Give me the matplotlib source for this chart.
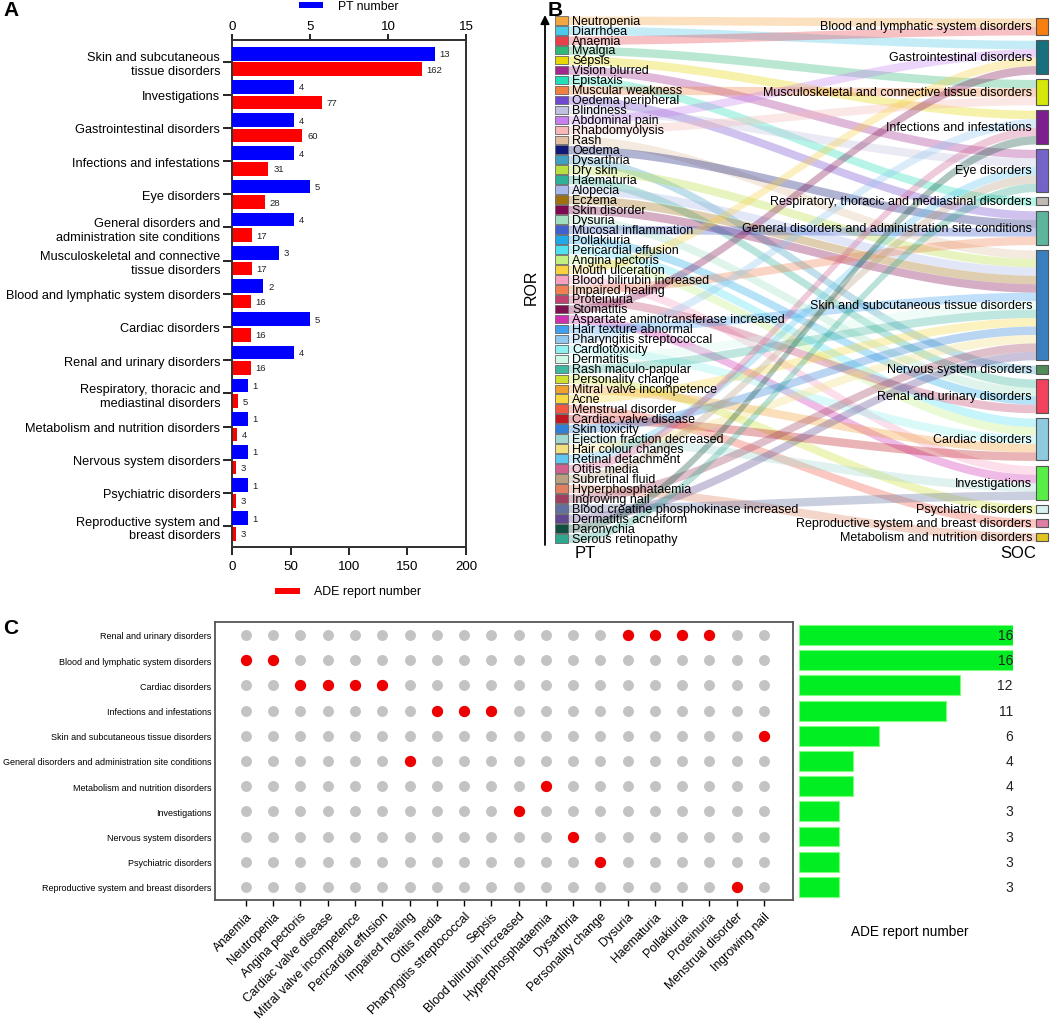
import numpy as np
import matplotlib
matplotlib.use('Agg')
import matplotlib.pyplot as plt
from matplotlib.patches import Rectangle

plt.rcParams['font.family'] = ['Liberation Sans', 'DejaVu Sans']

# ---------------- data: panel A ----------------
soc_a = ["Skin and subcutaneous\ntissue disorders", "Investigations", "Gastrointestinal disorders",
         "Infections and infestations", "Eye disorders",
         "General disorders and\nadministration site conditions",
         "Musculoskeletal and connective\ntissue disorders", "Blood and lymphatic system disorders",
         "Cardiac disorders", "Renal and urinary disorders",
         "Respiratory, thoracic and\nmediastinal disorders", "Metabolism and nutrition disorders",
         "Nervous system disorders", "Psychiatric disorders", "Reproductive system and\nbreast disorders"]
pt_number = [13, 4, 4, 4, 5, 4, 3, 2, 5, 4, 1, 1, 1, 1, 1]
ade_number = [162, 77, 60, 31, 28, 17, 17, 16, 16, 16, 5, 4, 3, 3, 3]

# ---------------- data: panel B ----------------
BL, GI, MS, INF, EYE, RES, GEN, SK, NER, REN, CAR, INV, PSY, REP, MET = (
    "Blood and lymphatic system disorders", "Gastrointestinal disorders",
    "Musculoskeletal and connective tissue disorders", "Infections and infestations", "Eye disorders",
    "Respiratory, thoracic and mediastinal disorders", "General disorders and administration site conditions",
    "Skin and subcutaneous tissue disorders", "Nervous system disorders", "Renal and urinary disorders",
    "Cardiac disorders", "Investigations", "Psychiatric disorders", "Reproductive system and breast disorders",
    "Metabolism and nutrition disorders")
soc_order = [BL, GI, MS, INF, EYE, RES, GEN, SK, NER, REN, CAR, INV, PSY, REP, MET]
soc_colors = ["#f77f10", "#17707e", "#d6e80a", "#7d1f8e", "#7663c9", "#c0bab5", "#5cb59c",
              "#3a80c0", "#4f8c57", "#f2425c", "#8fcbe0", "#58ee48", "#d9f1f1", "#e07fa3", "#e2c421"]
pt_terms = ["Neutropenia", "Diarrhoea", "Anaemia", "Myalgia", "Sepsis", "Vision blurred", "Epistaxis",
            "Muscular weakness", "Oedema peripheral", "Blindness", "Abdominal pain", "Rhabdomyolysis",
            "Rash", "Oedema", "Dysarthria", "Dry skin", "Haematuria", "Alopecia", "Eczema", "Skin disorder",
            "Dysuria", "Mucosal inflammation", "Pollakiuria", "Pericardial effusion", "Angina pectoris",
            "Mouth ulceration", "Blood bilirubin increased", "Impaired healing", "Proteinuria", "Stomatitis",
            "Aspartate aminotransferase increased", "Hair texture abnormal", "Pharyngitis streptococcal",
            "Cardiotoxicity", "Dermatitis", "Rash maculo-papular", "Personality change",
            "Mitral valve incompetence", "Acne", "Menstrual disorder", "Cardiac valve disease",
            "Skin toxicity", "Ejection fraction decreased", "Hair colour changes", "Retinal detachment",
            "Otitis media", "Subretinal fluid", "Hyperphosphataemia", "Ingrowing nail",
            "Blood creatine phosphokinase increased", "Dermatitis acneiform", "Paronychia",
            "Serous retinopathy"]
pt_soc = [BL, GI, BL, MS, INF, EYE, RES, MS, GEN, EYE, GI, MS, SK, GEN, NER, SK, REN, SK, SK, SK,
          REN, GEN, REN, CAR, CAR, GI, INV, GEN, REN, GI, INV, SK, INF, CAR, SK, SK, PSY, CAR, SK,
          REP, CAR, SK, INV, SK, EYE, INF, EYE, MET, SK, INV, SK, INF, EYE]
pt_colors = ["#f4a640", "#4cc8e8", "#e8404a", "#30b878", "#e8d800", "#a02890", "#20e0b8", "#f08040",
             "#7048d0", "#c0c0e0", "#c880f0", "#f8b8b8", "#e0c0a0", "#101878", "#40a0c0", "#b8e040",
             "#30b098", "#a8b8e8", "#a07010", "#800850", "#a0e0c0", "#4060d0", "#20a8e8", "#50e0f0",
             "#c0f080", "#f8d040", "#f8a0c0", "#f08050", "#c04070", "#801050", "#d030b0", "#40a0f0",
             "#90c8f0", "#90f0f0", "#d0f8e8", "#40b8a0", "#d0e030", "#f0a030", "#f8d840", "#f05840",
             "#c01820", "#3080d8", "#a0d8d0", "#f0e080", "#60c8f0", "#d06090", "#b8a080", "#e08060",
             "#a04060", "#6070a0", "#604890", "#105040", "#30a890"]

# ---------------- data: panel C ----------------
c_soc = ["Renal and urinary disorders", "Blood and lymphatic system disorders", "Cardiac disorders",
         "Infections and infestations", "Skin and subcutaneous tissue disorders",
         "General disorders and administration site conditions", "Metabolism and nutrition disorders",
         "Investigations", "Nervous system disorders", "Psychiatric disorders",
         "Reproductive system and breast disorders"]
c_pt = ["Anaemia", "Neutropenia", "Angina pectoris", "Cardiac valve disease", "Mitral valve incompetence",
        "Pericardial effusion", "Impaired healing", "Otitis media", "Pharyngitis streptococcal", "Sepsis",
        "Blood bilirubin increased", "Hyperphosphataemia", "Dysarthria", "Personality change", "Dysuria",
        "Haematuria", "Pollakiuria", "Proteinuria", "Menstrual disorder", "Ingrowing nail"]
c_pt_soc = [BL, BL, CAR, CAR, CAR, CAR, GEN, INF, INF, INF, INV, MET, NER, PSY, REN, REN, REN, REN, REP, SK]
c_ade = [16, 16, 12, 11, 6, 4, 4, 3, 3, 3, 3]

# ---------------- figure ----------------
W, H = 1052, 1020
fig = plt.figure(figsize=(W / 100, H / 100), dpi=100)


def px_axes(x0, y0, x1, y1):
    return fig.add_axes([x0 / W, 1 - y1 / H, (x1 - x0) / W, (y1 - y0) / H])


def fx(x):
    return x / W


def fy(y):
    return 1 - y / H


# ---------------- panel A ----------------
axA = px_axes(232, 41, 466, 548)
ya = np.arange(len(soc_a))
off, bh = 0.235, 0.41
axA.barh(ya + off, ade_number, height=bh, color='#ff0000', zorder=3)
axA.set_xlim(0, 200)
axA.set_ylim(14.63, -0.648)
axA.set_yticks(ya)
axA.set_yticklabels(soc_a, fontsize=9.2, ha='right', multialignment='right')
axA.set_xticks([0, 50, 100, 150, 200])
axA.tick_params(axis='x', labelsize=9.6, length=6, width=1.2, direction='out', pad=3)
axA.tick_params(axis='y', length=6.5, width=1.2, pad=2)
for v, yy in zip(ade_number, ya):
    axA.annotate(str(v), (v, yy + off), xytext=(3.5, 0), textcoords='offset points',
                 va='center', ha='left', fontsize=6.8, color='#222')
axT = axA.twiny()
axT.barh(ya - off, pt_number, height=bh, color='#0000ff', zorder=3)
axT.set_xlim(0, 15)
axT.set_xticks([0, 5, 10, 15])
axT.tick_params(axis='x', labelsize=9.6, length=4, width=1.2, pad=2)
for v, yy in zip(pt_number, ya):
    axT.annotate(str(v), (v, yy - off), xytext=(3.5, 0), textcoords='offset points',
                 va='center', ha='left', fontsize=6.8, color='#222')
for ax in (axA, axT):
    for s in ax.spines.values():
        s.set_linewidth(1.3)
        s.set_color('#333')

fig.add_artist(Rectangle((fx(299), fy(9)), 24 / W, 6 / H, transform=fig.transFigure,
                         color='#0000ff', lw=0))
fig.text(fx(338), fy(7), "PT number", fontsize=8.8, va='center', ha='left')
fig.add_artist(Rectangle((fx(275), fy(595)), 25 / W, 6 / H, transform=fig.transFigure,
                         color='#ff0000', lw=0))
fig.text(fx(314), fy(592), "ADE report number", fontsize=8.9, va='center', ha='left')

# ---------------- panel B ----------------
axB = px_axes(520, 0, 1052, 570)
axB.set_xlim(520, 1052)
axB.set_ylim(570, 0)
axB.axis('off')

row_top, pitch, box_h, w = 17.0, 9.96, 8.6, 8.45
lx0, lx1 = 555.0, 567.5
rx0, rx1 = 1036.0, 1048.0
r_top, r_gap = 19.0, 5.37

soc_count = {s: pt_soc.count(s) for s in soc_order}
node_top = {}
cur = r_top
for s in soc_order:
    node_top[s] = cur
    cur += soc_count[s] * w + r_gap

slot_used = {s: 0 for s in soc_order}
t = np.linspace(0, 1, 80)
xs = lx1 + (rx0 - lx1) * t
ss = 3 * t ** 2 - 2 * t ** 3
for i, (name, soc, col) in enumerate(zip(pt_terms, pt_soc, pt_colors)):
    yl = row_top + i * pitch + box_h / 2
    yr = node_top[soc] + slot_used[soc] * w + w / 2
    slot_used[soc] += 1
    yc = yl + (yr - yl) * ss
    axB.fill_between(xs, yc - w / 2, yc + w / 2, color=col, alpha=0.33, lw=0, zorder=1)

for i, (name, col) in enumerate(zip(pt_terms, pt_colors)):
    y0 = row_top + i * pitch
    axB.add_patch(Rectangle((lx0, y0), lx1 - lx0, box_h, fc=col, ec='#666', lw=0.6, zorder=3))
    axB.text(572, y0 + box_h / 2 + 0.3, name, fontsize=9, va='center', ha='left', zorder=4)

for s, col in zip(soc_order, soc_colors):
    h = soc_count[s] * w
    axB.add_patch(Rectangle((rx0, node_top[s]), rx1 - rx0, h, fc=col, ec='#555', lw=0.8, zorder=3))
    axB.text(1032, node_top[s] + h / 2, s, fontsize=9, va='center', ha='right', zorder=4)

axB.annotate('', xy=(545, 16), xytext=(545, 546),
             arrowprops=dict(arrowstyle='-|>', lw=1.3, color='black', mutation_scale=13,
                             shrinkA=0, shrinkB=0))
axB.text(531, 287, "ROR", rotation=90, fontsize=11.5, va='center', ha='center')
axB.text(575, 554, "PT", fontsize=12, va='center', ha='left')
axB.text(1000, 554, "SOC", fontsize=12, va='center', ha='left')

# ---------------- panel C ----------------
axC = px_axes(215, 623, 793, 901)
nx, ny = len(c_pt), len(c_soc)
gx, gy = np.meshgrid(np.arange(nx), np.arange(ny))
axC.scatter(gx.ravel(), gy.ravel(), s=62, color='#c3c3c3', lw=0, zorder=2)
hx = [j for j in range(nx)]
hy = [c_soc.index(c_pt_soc[j]) for j in range(nx)]
axC.scatter(hx, hy, s=66, color='#ee0000', lw=0, zorder=3)
axC.set_xlim(-1.137, 20.07)
axC.set_ylim(10.52, -0.516)
axC.set_yticks(np.arange(ny))
axC.set_yticklabels(c_soc, fontsize=6.5)
axC.tick_params(axis='y', length=0, pad=2.5)
axC.set_xticks(np.arange(nx))
axC.set_xticklabels(c_pt, rotation=45, ha='right', rotation_mode='anchor', fontsize=8.9)
axC.tick_params(axis='x', length=4, width=1.0, pad=3)
for s in axC.spines.values():
    s.set_linewidth(1.3)
    s.set_color('#555')

axC2 = px_axes(799, 623, 1013, 901)
axC2.barh(np.arange(ny), c_ade, height=0.79, color='#00ee22', edgecolor='#7dff7d', lw=0.8)
axC2.set_xlim(0, 16)
axC2.set_ylim(10.52, -0.516)
axC2.axis('off')
for k, v in enumerate(c_ade):
    axC2.text(16, k, str(v), ha='right', va='center', fontsize=10, color='#222')
fig.text(fx(910), fy(932), "ADE report number", fontsize=9.8, ha='center', va='center')

# ---------------- panel letters ----------------
for lab, x, y in (("A", 3, 10), ("B", 548, 10), ("C", 3, 628)):
    fig.text(fx(x), fy(y), lab, fontsize=15, fontweight='bold', va='center', ha='left')

fig.savefig("out.png", dpi=100)
